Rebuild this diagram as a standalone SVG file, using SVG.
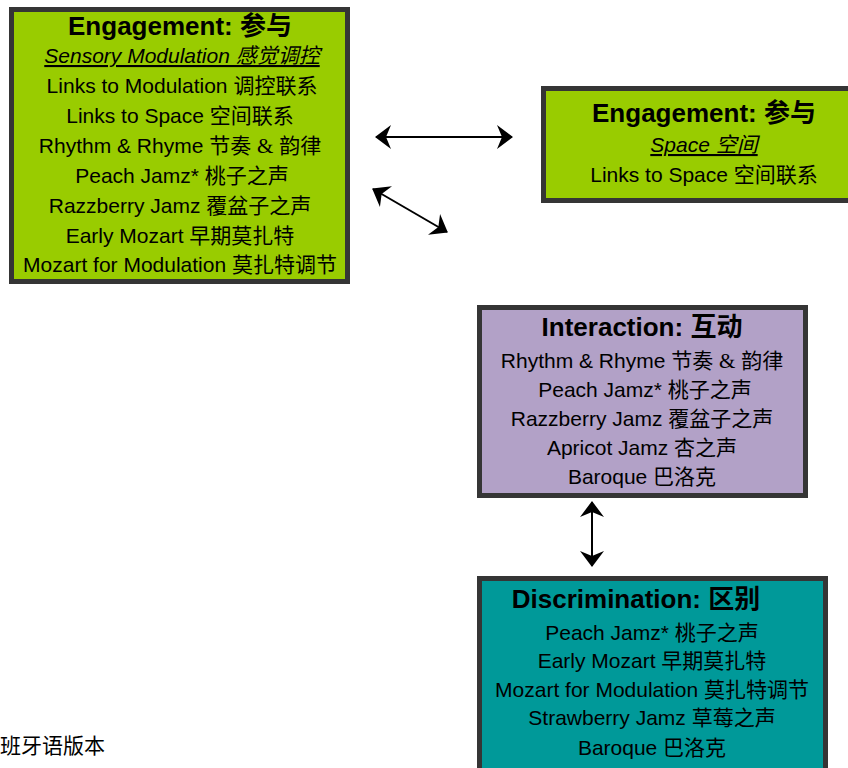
<svg xmlns="http://www.w3.org/2000/svg" width="848" height="768" viewBox="0 0 848 768">
<style>
.box{stroke:#353535;stroke-width:5}
.green{fill:#99CC00}
.purple{fill:#B2A1C7}
.teal{fill:#009999}
text{font-family:"Liberation Sans","Noto Sans CJK SC",sans-serif;fill:#000;text-anchor:middle}
.t{font-size:26px;font-weight:bold}
.b{font-size:21px}
.u{font-size:21px;font-style:italic;text-decoration:underline}
.conn{stroke:#000;stroke-width:2;fill:none;marker-start:url(#ah);marker-end:url(#ah)}
</style>
<defs>
<marker id="ah" viewBox="-1 -13 18 26" refX="15" refY="0" markerWidth="18" markerHeight="26" markerUnits="userSpaceOnUse" orient="auto-start-reverse">
<path d="M0,-12 L16,0 L0,12 L5,0 Z" fill="#000"/>
</marker>
</defs>
<rect width="848" height="768" fill="#fff"/>
<g id="engagement-sensory">
<rect class="box green" x="11.5" y="9.5" width="336" height="272"/>
<text class="t" x="180" y="35">Engagement: 参与</text>
<text class="u" x="182" y="63">Sensory Modulation 感觉调控</text>
<text class="b" x="182" y="93">Links to Modulation 调控联系</text>
<text class="b" x="180" y="123">Links to Space 空间联系</text>
<text class="b" x="180" y="153">Rhythm &amp; Rhyme 节奏 <tspan font-family="'Liberation Serif',serif">&amp;</tspan> 韵律</text>
<text class="b" x="182" y="183">Peach Jamz* 桃子之声</text>
<text class="b" x="180" y="213">Razzberry Jamz 覆盆子之声</text>
<text class="b" x="180" y="243">Early Mozart 早期莫扎特</text>
<text class="b" x="180" y="272">Mozart for Modulation 莫扎特调节</text>
</g>
<g id="engagement-space">
<rect class="box green" x="543.5" y="88.5" width="320" height="112"/>
<text class="t" x="704" y="122">Engagement: 参与</text>
<text class="u" x="704" y="152">Space 空间</text>
<text class="b" x="704" y="182">Links to Space 空间联系</text>
</g>
<g id="interaction">
<rect class="box purple" x="479.5" y="307.5" width="326" height="188"/>
<text class="t" x="642" y="336">Interaction: 互动</text>
<text class="b" x="642" y="368">Rhythm &amp; Rhyme 节奏 <tspan font-family="'Liberation Serif',serif">&amp;</tspan> 韵律</text>
<text class="b" x="645" y="397">Peach Jamz* 桃子之声</text>
<text class="b" x="642" y="426">Razzberry Jamz 覆盆子之声</text>
<text class="b" x="642" y="455">Apricot Jamz 杏之声</text>
<text class="b" x="642" y="484">Baroque 巴洛克</text>
</g>
<g id="discrimination">
<rect class="box teal" x="479.5" y="578.5" width="346" height="200"/>
<text class="t" x="636" y="608">Discrimination: 区别</text>
<text class="b" x="652" y="640">Peach Jamz* 桃子之声</text>
<text class="b" x="652" y="668">Early Mozart 早期莫扎特</text>
<text class="b" x="652" y="697">Mozart for Modulation  莫扎特调节</text>
<text class="b" x="652" y="725">Strawberry Jamz 草莓之声</text>
<text class="b" x="652" y="755">Baroque 巴洛克</text>
</g>
<g id="connectors">
<line class="conn" x1="376" y1="137" x2="512" y2="137"/>
<line class="conn" x1="373" y1="189" x2="447" y2="232"/>
<line class="conn" x1="592" y1="502" x2="592" y2="566"/>
</g>
<text x="0" y="753" style="font-size:21px;text-anchor:start;font-family:'Noto Sans CJK SC',sans-serif">班牙语版本</text>
</svg>
